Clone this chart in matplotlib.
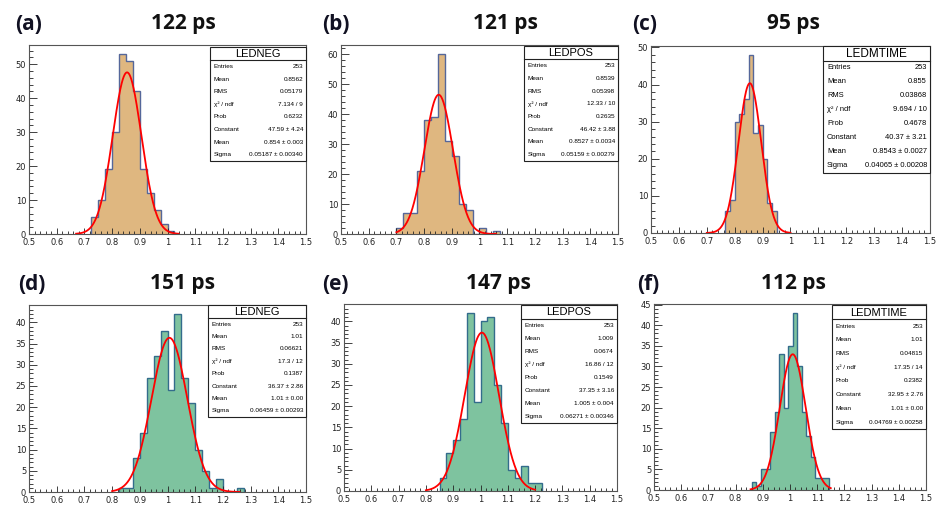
import numpy as np
import matplotlib
matplotlib.use("Agg")
import matplotlib.pyplot as plt
from matplotlib.ticker import MultipleLocator, FuncFormatter
from matplotlib.patches import Rectangle
from matplotlib.lines import Line2D

W, H = 937, 505

# ---------------- data ----------------
labels = ["(a)", "(b)", "(c)", "(d)", "(e)", "(f)"]
resolutions = ["122 ps", "121 ps", "95 ps", "151 ps", "147 ps", "112 ps"]
hist_names = ["LEDNEG", "LEDPOS", "LEDMTIME", "LEDNEG", "LEDPOS", "LEDMTIME"]

bin_lo = [0.725, 0.70, 0.5 + 16 / 60, 0.825, 0.85, 0.86]
bin_w = [0.025, 0.025, 1 / 60, 0.025, 0.025, 1 / 60]

counts_a = [5, 10, 19, 30, 53, 51, 42, 19, 12, 7, 3, 1]
counts_b = [2, 7, 7, 21, 38, 39, 60, 31, 26, 10, 8, 0, 2, 0, 1]
counts_c = [6, 9, 30, 32, 36, 48, 27, 29, 20, 8, 6]
counts_d = [1, 1, 8, 14, 27, 32, 38, 24, 42, 27, 21, 10, 5, 1, 3, 0, 0, 1]
counts_e = [3, 9, 12, 17, 42, 21, 40, 41, 25, 16, 5, 3, 6, 2, 2]
counts_f = [2, 1, 5, 5, 14, 19, 33, 20, 35, 43, 30, 19, 13, 8, 3, 3, 3]
all_counts = [counts_a, counts_b, counts_c, counts_d, counts_e, counts_f]

fit_const = [47.59, 46.42, 40.37, 36.37, 37.35, 32.95]
fit_mean = [0.854, 0.8527, 0.8543, 1.007, 1.005, 1.01]
fit_sigma = [0.05187, 0.05159, 0.04065, 0.06459, 0.06271, 0.04769]
fit_lo = [0.67, 0.70, 0.70, 0.80, 0.80, 0.855]
fit_hi = [1.04, 1.06, 1.00, 1.26, 1.20, 1.15]

stat_keys = ["Entries", "Mean", "RMS", "χ² / ndf", "Prob", "Constant", "Mean", "Sigma"]
stat_vals = [
    ["253", "0.8562", "0.05179", "7.134 / 9", "0.6232", "47.59 ± 4.24", "0.854 ± 0.003", "0.05187 ± 0.00340"],
    ["253", "0.8539", "0.05398", "12.33 / 10", "0.2635", "46.42 ± 3.88", "0.8527 ± 0.0034", "0.05159 ± 0.00279"],
    ["253", "0.855", "0.03868", "9.694 / 10", "0.4678", "40.37 ± 3.21", "0.8543 ± 0.0027", "0.04065 ± 0.00208"],
    ["253", "1.01", "0.06621", "17.3 / 12", "0.1387", "36.37 ± 2.86", "1.01 ± 0.00", "0.06459 ± 0.00293"],
    ["253", "1.009", "0.0674", "16.86 / 12", "0.1549", "37.35 ± 3.16", "1.005 ± 0.004", "0.06271 ± 0.00346"],
    ["253", "1.01", "0.04815", "17.35 / 14", "0.2382", "32.95 ± 2.76", "1.01 ± 0.00", "0.04769 ± 0.00258"],
]

y_major = [10, 10, 10, 5, 5, 5]
y_minor = [2, 2, 2, 1, 1, 1]

# ---------------- layout (pixels) ----------------
axes_px = [  # left, right, top, bottom(baseline)
    (29, 306, 45, 234),
    (341, 618, 45, 234),
    (651, 930, 46, 233),
    (29, 306, 305, 492),
    (344, 617, 304, 491),
    (654, 926, 304, 490),
]
stat_px = [  # left, right, top, bottom
    (210, 306, 47, 161),
    (524, 618, 46, 161),
    (823, 930, 46, 173),
    (208, 306, 305, 417),
    (521, 617, 305, 423),
    (832, 926, 305, 429),
]
label_px = [(15, 24), (322, 24), (632, 24), (18, 284), (322, 284), (637, 284)]
res_px = [(183, 24), (505, 24), (793, 24), (183, 284), (498, 284), (793, 284)]
stat_title_fs = [8, 8, 8.5, 8, 8, 8]
stat_row_fs = [4.6, 4.6, 5.4, 4.6, 4.6, 4.6]

fill_cols = ["#DFB780", "#DFB780", "#DFB780", "#7EC39F", "#7EC39F", "#7EC39F"]
edge_cols = ["#55679A", "#55679A", "#55679A", "#336C8C", "#336C8C", "#336C8C"]

fig = plt.figure(figsize=(W / 100, H / 100), dpi=100)
fig.patch.set_facecolor("white")

def fx(x):
    return x / W

def fy(y):
    return 1 - y / H

fmt = FuncFormatter(lambda v, p: ("%g" % round(v, 3)))

for i in range(6):
    l, r, t, b = axes_px[i]
    ax = fig.add_axes([fx(l), fy(b), fx(r) - fx(l), fy(t) - fy(b)])
    counts = np.array(all_counts[i], dtype=float)
    edges = bin_lo[i] + bin_w[i] * np.arange(len(counts) + 1)
    ax.stairs(counts, edges, fill=True, color=fill_cols[i], lw=0)
    ax.stairs(counts, edges, fill=False, color=edge_cols[i], lw=1.0)
    xs = np.linspace(fit_lo[i], fit_hi[i], 300)
    ax.plot(xs, fit_const[i] * np.exp(-0.5 * ((xs - fit_mean[i]) / fit_sigma[i]) ** 2),
            color="#FF0000", lw=1.3)
    ax.set_xlim(0.5, 1.5)
    ax.set_ylim(0, 1.05 * max(all_counts[i]))
    ax.xaxis.set_major_locator(MultipleLocator(0.1))
    ax.xaxis.set_minor_locator(MultipleLocator(0.02))
    ax.yaxis.set_major_locator(MultipleLocator(y_major[i]))
    ax.yaxis.set_minor_locator(MultipleLocator(y_minor[i]))
    ax.xaxis.set_major_formatter(fmt)
    ax.tick_params(which="both", direction="in", top=False, right=False,
                   labelsize=6, colors="#222222")
    ax.tick_params(axis="x", which="major", length=4, width=0.6, pad=3)
    ax.tick_params(axis="x", which="minor", length=2, width=0.6)
    ax.tick_params(axis="y", which="major", length=6, width=0.6, pad=2)
    ax.tick_params(axis="y", which="minor", length=3, width=0.6)
    for s in ax.spines.values():
        s.set_linewidth(0.8)
        s.set_color("#555555")

    # stat box
    sl, sr, st, sb = stat_px[i]
    fig.patches.append(Rectangle((fx(sl), fy(sb)), fx(sr) - fx(sl), fy(st) - fy(sb),
                                 transform=fig.transFigure, facecolor="white",
                                 edgecolor="#222222", lw=0.8, zorder=5))
    title_h = (sb - st) * 0.115
    fig.lines.append(Line2D([fx(sl), fx(sr)], [fy(st + title_h)] * 2,
                            transform=fig.transFigure, color="#222222", lw=0.8, zorder=6))
    fig.text(fx((sl + sr) / 2), fy(st + title_h / 2 + 0.5), hist_names[i],
             ha="center", va="center", fontsize=stat_title_fs[i],
             family="Liberation Sans", zorder=7)
    row_h = (sb - st - title_h) / 8
    for k in range(8):
        yy = st + title_h + row_h * (k + 0.5)
        fig.text(fx(sl + 4), fy(yy), stat_keys[k], ha="left", va="center",
                 fontsize=stat_row_fs[i], family="Liberation Sans", zorder=7)
        fig.text(fx(sr - 3), fy(yy), stat_vals[i][k], ha="right", va="center",
                 fontsize=stat_row_fs[i], family="Liberation Sans", zorder=7)

    # panel labels
    fig.text(fx(label_px[i][0]), fy(label_px[i][1]), labels[i], ha="left", va="center",
             fontsize=15, fontweight="bold", color="#111122", family="Open Sans")
    fig.text(fx(res_px[i][0]), fy(res_px[i][1]), resolutions[i], ha="center", va="center",
             fontsize=15, fontweight="bold", color="#111111", family="Open Sans")

fig.savefig("out.png", dpi=100, facecolor="white")
